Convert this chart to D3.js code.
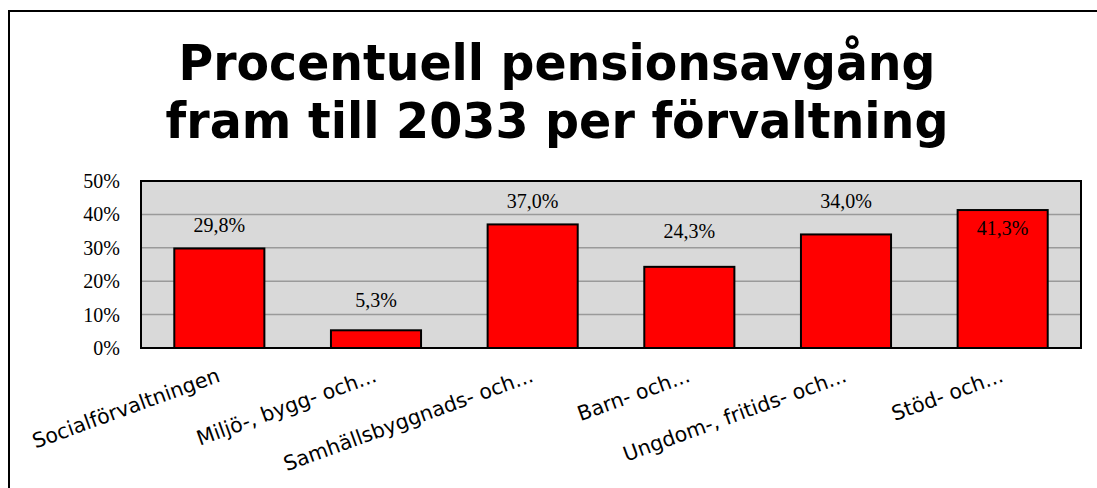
<!DOCTYPE html>
<html>
<head>
<meta charset="utf-8">
<script src="https://cdn.jsdelivr.net/npm/d3@7"></script>
<style>
  body { margin: 0; background: #fff; }
  svg { display: block; }
</style>
</head>
<body>
<div class="canvas"></div>
<script>
// data
const categories = ['Socialförvaltningen', 'Miljö-, bygg- och...', 'Samhällsbyggnads- och...', 'Barn- och...', 'Ungdom-, fritids- och...', 'Stöd- och...']
const values = [29.8, 5.3, 37.0, 24.3, 34.0, 41.3]
const yTicks = [0, 10, 20, 30, 40, 50]
const titleLines = ['Procentuell pensionsavgång', 'fram till 2033 per förvaltning']

// label vertical offsets from the bar top (as placed in the original)
const labelDy = [-23, -30, -23, -36, -33, 18]

const dims = { width: 1097, height: 488 }
const plot = { left: 141, right: 1081, top: 181, bottom: 348 }

const svg = d3.select('.canvas')
    .append('svg')
    .attr('width', dims.width)
    .attr('height', dims.height)

// outer frame (runs off the right/bottom edge)
svg.append('rect')
    .attr('x', 9).attr('y', 11)
    .attr('width', 1200).attr('height', 600)
    .attr('fill', 'none')
    .attr('stroke', '#000')
    .attr('stroke-width', 2)

// title
svg.append('g').selectAll('text')
    .data(titleLines)
    .join('text')
        .attr('x', 557)
        .attr('y', (d, i) => 80 + i * 58)
        .attr('text-anchor', 'middle')
        .attr('font-family', 'DejaVu Sans')
        .attr('font-weight', 'bold')
        .attr('font-size', 50)
        .attr('textLength', (d, i) => i === 0 ? 757 : 783)
        .attr('lengthAdjust', 'spacingAndGlyphs')
        .text(d => d)

// scales
const x = d3.scaleBand()
    .domain(categories)
    .range([plot.left, plot.right])
    .paddingInner(0.425)
    .paddingOuter(0.2125)

const y = d3.scaleLinear()
    .domain([0, 50])
    .range([plot.bottom, plot.top])

// plot background
svg.append('rect')
    .attr('x', plot.left).attr('y', plot.top)
    .attr('width', plot.right - plot.left)
    .attr('height', plot.bottom - plot.top)
    .attr('fill', '#d9d9d9')

// gridlines
svg.append('g').selectAll('line')
    .data(yTicks.filter(t => t > 0 && t < 50))
    .join('line')
        .attr('x1', plot.left).attr('x2', plot.right)
        .attr('y1', d => y(d)).attr('y2', d => y(d))
        .attr('stroke', '#9a9a9a')
        .attr('stroke-width', 1.5)

// y axis
const yAxis = d3.axisLeft(y)
    .tickValues(yTicks)
    .tickSize(0)
    .tickPadding(21)
    .tickFormat(d => d + '%')

const yG = svg.append('g')
    .attr('transform', `translate(${plot.left}, 0)`)
    .call(yAxis)
yG.select('.domain').remove()
yG.selectAll('text')
    .attr('font-family', 'Liberation Serif')
    .attr('font-size', 20)
    .attr('fill', '#000')

// bars
svg.append('g').selectAll('rect')
    .data(values)
    .join('rect')
        .attr('x', (d, i) => x(categories[i]))
        .attr('y', d => y(d))
        .attr('width', x.bandwidth())
        .attr('height', d => y(0) - y(d))
        .attr('fill', '#ff0000')
        .attr('stroke', '#000')
        .attr('stroke-width', 2)

// plot border
svg.append('rect')
    .attr('x', plot.left).attr('y', plot.top)
    .attr('width', plot.right - plot.left)
    .attr('height', plot.bottom - plot.top)
    .attr('fill', 'none')
    .attr('stroke', '#000')
    .attr('stroke-width', 2)

// value labels
svg.append('g').selectAll('text')
    .data(values)
    .join('text')
        .attr('x', (d, i) => x(categories[i]) + x.bandwidth() / 2)
        .attr('y', (d, i) => y(d) + labelDy[i])
        .attr('dy', '0.35em')
        .attr('text-anchor', 'middle')
        .attr('font-family', 'Liberation Serif')
        .attr('font-size', 20)
        .text(d => d.toFixed(1).replace('.', ',') + '%')

// x axis
const xAxis = d3.axisBottom(x).tickSize(0).tickPadding(0)
const xG = svg.append('g')
    .attr('transform', `translate(0, ${plot.bottom})`)
    .call(xAxis)
xG.select('.domain').remove()
xG.selectAll('text')
    .attr('font-family', 'DejaVu Sans')
    .attr('font-size', 20.5)
    .attr('fill', '#000')
    .attr('text-anchor', 'end')
    .attr('y', 0)
    .attr('dy', 0)
    .attr('transform', 'translate(2, 33) rotate(-20)')
</script>
</body>
</html>
